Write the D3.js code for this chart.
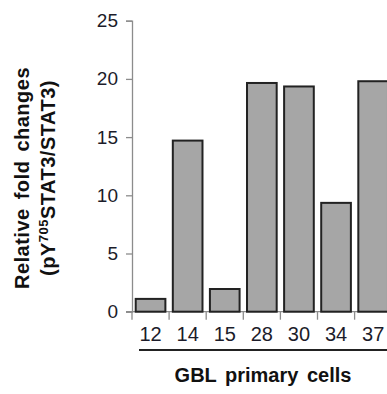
<!DOCTYPE html>
<html>
<head>
<meta charset="utf-8">
<script src="https://cdn.jsdelivr.net/npm/d3@7"></script>
<style>
  html, body { margin: 0; padding: 0; background: #fff; }
  svg { display: block; font-family: "Liberation Sans", Arial, sans-serif; }
</style>
</head>
<body>
<svg id="chart"></svg>
<script>
// data
const cells = ['12', '14', '15', '28', '30', '34', '37']
const foldChanges = [1.1, 14.7, 1.95, 19.65, 19.35, 9.35, 19.8]
const yTicks = [0, 5, 10, 15, 20, 25]

const fullWidth = 387
const fullHeight = 394
const left = 132
const yTop = 20.7
const yBottom = 311.7

const svg = d3.select('#chart')
    .attr('width', fullWidth)
    .attr('height', fullHeight)

const xScale = d3.scaleBand()
    .domain(cells)
    .range([left, left + 7 * 37.1])
    .paddingInner(0.2)
    .paddingOuter(0.1)

const yScale = d3.scaleLinear()
    .domain([0, 25])
    .range([yBottom, yTop])

// y axis
const yAxisGroup = svg.append('g')
    .attr('transform', `translate(${left}, 0)`)
    .call(d3.axisLeft(yScale).tickValues(yTicks).tickSize(6).tickPadding(8))

yAxisGroup.select('.domain').attr('stroke', '#8c8c8c').attr('stroke-width', 1.3)
yAxisGroup.selectAll('.tick line').attr('stroke', '#8c8c8c').attr('stroke-width', 1.3)
yAxisGroup.selectAll('text')
    .attr('font-size', '19px')
    .attr('fill', '#1c1c2a')
    .attr('font-family', '"Liberation Sans", Arial, sans-serif')

// x axis line and category boundary ticks
const boundaries = cells.map(c => xScale(c) - xScale.step() * xScale.paddingInner() / 2)

svg.append('line')
    .attr('x1', left - 6).attr('x2', fullWidth)
    .attr('y1', yBottom).attr('y2', yBottom)
    .attr('stroke', '#8c8c8c').attr('stroke-width', 1.3)

svg.append('g')
    .selectAll('line')
    .data(boundaries)
    .enter().append('line')
        .attr('x1', d => d).attr('x2', d => d)
        .attr('y1', yBottom).attr('y2', yBottom + 8)
        .attr('stroke', '#8c8c8c').attr('stroke-width', 1.3)

// bars
svg.append('g')
    .selectAll('rect')
    .data(cells)
    .enter().append('rect')
        .attr('x', d => xScale(d))
        .attr('y', (d, i) => yScale(foldChanges[i]))
        .attr('width', xScale.bandwidth())
        .attr('height', (d, i) => yBottom - yScale(foldChanges[i]))
        .attr('fill', '#a6a6a6')
        .attr('stroke', '#222')
        .attr('stroke-width', 2)

// category labels
const xAxisGroup = svg.append('g')
    .attr('transform', `translate(0, ${yBottom})`)
    .call(d3.axisBottom(xScale).tickSize(0).tickPadding(15))

xAxisGroup.select('.domain').remove()
xAxisGroup.selectAll('text')
    .attr('font-size', '20px')
    .attr('fill', '#1c1c2a')
    .attr('font-family', '"Liberation Sans", Arial, sans-serif')

// bracket line under the labels
svg.append('line')
    .attr('x1', 139).attr('x2', fullWidth)
    .attr('y1', 350).attr('y2', 350)
    .attr('stroke', '#222').attr('stroke-width', 2)

svg.append('text')
    .attr('x', 263).attr('y', 382)
    .attr('text-anchor', 'middle')
    .attr('font-size', '20px')
    .attr('font-weight', 'bold')
    .attr('fill', '#111')
    .attr('word-spacing', '3px')
    .text('GBL primary cells')

// y title, two lines
const yTitle = svg.append('text')
    .attr('transform', 'translate(0, 178) rotate(-90)')
    .attr('text-anchor', 'middle')
    .attr('font-size', '20px')
    .attr('font-weight', 'bold')
    .attr('fill', '#111')
    .attr('letter-spacing', '0.5px')

yTitle.append('tspan')
    .attr('x', 0).attr('y', 29)
    .attr('word-spacing', '3px')
    .text('Relative fold changes')

const line2 = yTitle.append('tspan')
    .attr('x', 0).attr('y', 55)
line2.text('(pY')
yTitle.append('tspan')
    .attr('dy', -7)
    .attr('font-size', '13px')
    .text('705')
yTitle.append('tspan')
    .attr('dy', 7)
    .text('STAT3/STAT3)')
</script>
</body>
</html>
